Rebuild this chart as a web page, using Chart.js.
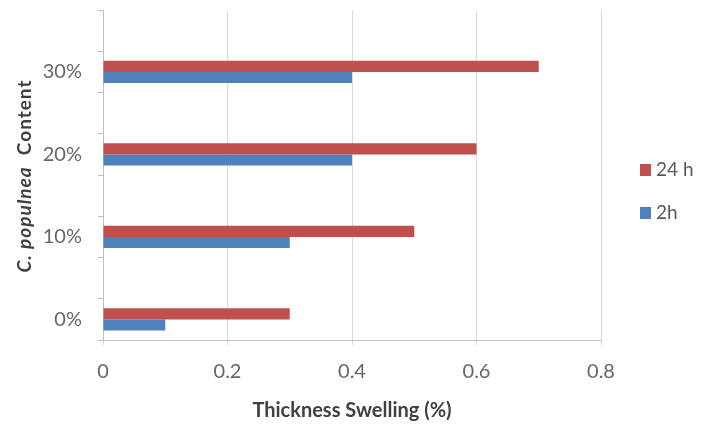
<!DOCTYPE html>
<html>
<head>
<meta charset="utf-8">
<script src="https://cdn.jsdelivr.net/npm/chart.js@4.4.0/dist/chart.umd.min.js"></script>
<style>
  html, body { margin: 0; padding: 0; background: #fff; }
  #wrap { width: 709px; height: 427px; position: relative; }
</style>
</head>
<body>
<div id="wrap"><canvas id="barChart"></canvas></div>
<script>
// Chart values
const categories = ["0%", "10%", "20%", "30%"];
const series24h = [0.3, 0.5, 0.6, 0.7];
const series2h = [0.1, 0.3, 0.4, 0.4];
const xTicks = [0, 0.2, 0.4, 0.6, 0.8];

// The original leaves an empty slot above every group, top to bottom
const buildLabels = () => {
    const out = [];
    for (let i = categories.length - 1; i >= 0; i--) {
        out.push("");
        out.push(categories[i]);
    }
    return out;
}
const buildData = (values) => {
    const out = [];
    for (let i = values.length - 1; i >= 0; i--) {
        out.push(null);
        out.push(values[i]);
    }
    return out;
}

const FONT = "Lato, 'Open Sans', sans-serif";

// y axis title with italic species name, plus the legend on the right
const extras = {
    id: "extras",
    afterDraw(chart) {
        const ctx = chart.ctx;
        ctx.save();
        ctx.translate(25, 176);
        ctx.rotate(-Math.PI / 2);
        const part1 = "C. populnea";
        const part2 = "  Content";
        const f1 = "italic bold 19px " + FONT;
        const f2 = "bold 19px " + FONT;
        ctx.letterSpacing = "1px";
        ctx.font = f1;
        const w1 = ctx.measureText(part1).width;
        ctx.font = f2;
        const w2 = ctx.measureText(part2).width;
        let x = -(w1 + w2) / 2;
        ctx.fillStyle = "#404040";
        ctx.textBaseline = "middle";
        ctx.font = f1;
        ctx.fillText(part1, x, 0);
        ctx.font = f2;
        ctx.fillText(part2, x + w1, 0);
        ctx.restore();

        // legend
        ctx.save();
        ctx.font = "19px " + FONT;
        ctx.textBaseline = "middle";
        chart.data.datasets.forEach((ds, i) => {
            const cy = 170 + i * 43;
            ctx.fillStyle = ds.backgroundColor;
            ctx.fillRect(640, cy - 6, 11, 12);
            ctx.fillStyle = "#595959";
            ctx.fillText(ds.label, 656, cy);
        });
        ctx.restore();
    }
}

const createBarChart = (elementId) => {
    const ctx = document.getElementById(elementId).getContext("2d");
    new Chart(ctx, {
        type: "bar",
        data: {
            labels: buildLabels(),
            datasets: [{
                label: "24 h",
                data: buildData(series24h),
                backgroundColor: "#C0504D",
                categoryPercentage: 0.54,
                barPercentage: 1.0
            }, {
                label: "2h",
                data: buildData(series2h),
                backgroundColor: "#4F81BD",
                categoryPercentage: 0.54,
                barPercentage: 1.0
            }]
        },
        options: {
            indexAxis: "y",
            responsive: true,
            maintainAspectRatio: false,
            animation: false,
            layout: { padding: { top: 10, right: 108, left: 0, bottom: 0 } },
            plugins: {
                legend: { display: false },
                tooltip: { enabled: false }
            },
            scales: {
                x: {
                    min: 0,
                    max: 0.8,
                    afterBuildTicks: (scale) => {
                        scale.ticks = xTicks.map(v => ({ value: v }));
                    },
                    afterFit: (scale) => {
                        scale.height = 87;
                        scale.paddingLeft = 0;
                        scale.paddingRight = 0;
                    },
                    grid: { color: "#d9d9d9", tickLength: 5, drawTicks: true },
                    border: { color: "#bfbfbf" },
                    ticks: {
                        color: "#666666",
                        font: { family: FONT, size: 20 },
                        padding: 15,
                        callback: (v) => String(v)
                    },
                    title: {
                        display: true,
                        text: "Thickness Swelling (%)",
                        color: "#404040",
                        font: { family: FONT, size: 20, weight: "bold" },
                        padding: { top: 0, bottom: 4 }
                    }
                },
                y: {
                    afterFit: (scale) => {
                        scale.width = 103;
                        scale.paddingTop = 0;
                        scale.paddingBottom = 0;
                    },
                    grid: { display: true, drawOnChartArea: false, color: "#bfbfbf", tickLength: 5 },
                    border: { color: "#bfbfbf" },
                    ticks: {
                        color: "#666666",
                        font: { family: FONT, size: 20 },
                        padding: 16,
                        autoSkip: false
                    }
                }
            }
        },
        plugins: [extras]
    });
}

createBarChart("barChart");
</script>
</body>
</html>
